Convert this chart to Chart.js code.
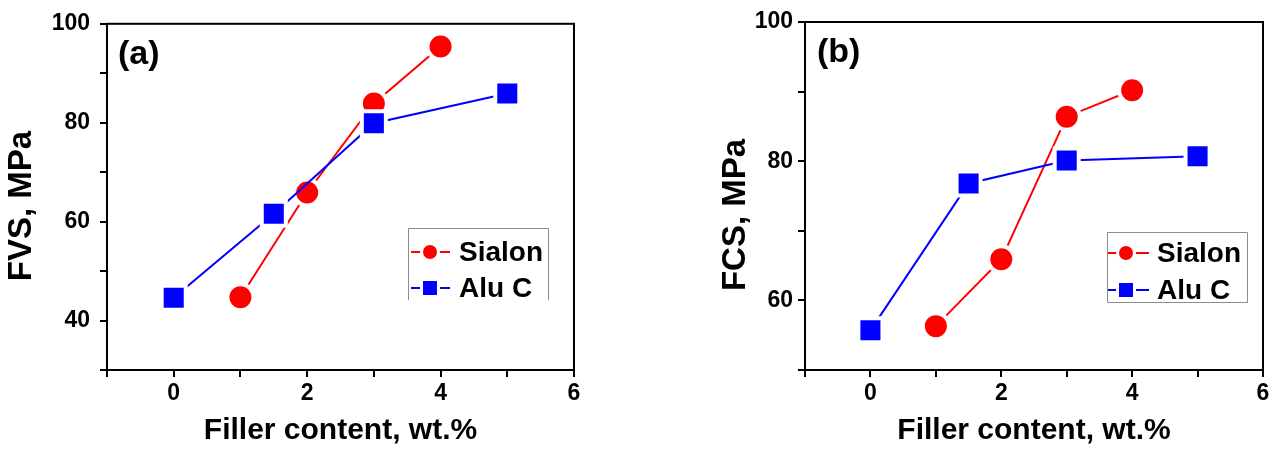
<!DOCTYPE html>
<html>
<head>
<meta charset="utf-8">
<script src="https://cdn.jsdelivr.net/npm/chart.js@4"></script>
<style>
  html, body { margin: 0; padding: 0; background: #fff; }
  #wrap { position: relative; width: 1284px; height: 449px; }
  #chartA { position: absolute; left: 0; top: 0; }
  #chartB { position: absolute; left: 640px; top: 0; }
</style>
</head>
<body>
<div id="wrap">
  <canvas id="chartA" width="640" height="449"></canvas>
  <canvas id="chartB" width="644" height="449"></canvas>
</div>
<script>
// filler content, wt.%
const fillerSialon = [1, 2, 3, 4];
const fillerAlu = [0, 1.5, 3, 5];
// (a) FVS, MPa
const fvsSialon = [44.7, 65.9, 83.9, 95.4];
const fvsAlu = [44.6, 61.6, 79.9, 85.9];
// (b) FCS, MPa
const fcsSialon = [56.3, 65.9, 86.4, 90.2];
const fcsAlu = [55.7, 76.8, 80.1, 80.7];

const seriesNames = ['Sialon', 'Alu C'];
const xTickLabels = [0, 2, 4, 6];
const fvsTickLabels = [40, 60, 80, 100];
const fcsTickLabels = [60, 80, 100];

const FONT = '"Liberation Sans", Arial, Helvetica, sans-serif';
const RED = '#ff0000';
const BLUE = '#0000ff';

function toPoints(xs, ys) {
  return xs.map((x, i) => ({ x: x, y: ys[i] }));
}

// frame, y title, panel letter and the Origin-style legend box
const decorPlugin = {
  id: 'decor',
  afterDraw(chart, args, opts) {
    const ctx = chart.ctx;
    const area = chart.chartArea;
    ctx.save();

    ctx.strokeStyle = '#000';
    ctx.lineWidth = 2;
    ctx.strokeRect(area.left, area.top, area.right - area.left, area.bottom - area.top);

    // rotated y axis title, placed like the original figure
    ctx.save();
    ctx.translate(opts.yTitleX, opts.yTitleY);
    ctx.rotate(-Math.PI / 2);
    ctx.fillStyle = '#000';
    ctx.font = 'bold 33px ' + FONT;
    ctx.textAlign = 'center';
    ctx.textBaseline = 'middle';
    ctx.fillText(opts.yTitle, 0, 0);
    ctx.restore();

    ctx.fillStyle = '#000';
    ctx.font = 'bold 34px ' + FONT;
    ctx.textAlign = 'left';
    ctx.textBaseline = 'middle';
    ctx.fillText(opts.label, opts.labelX, opts.labelY);

    const lg = opts.legend;
    ctx.strokeStyle = '#8c8c8c';
    ctx.lineWidth = 1;
    ctx.beginPath();
    if (lg.openBottom) {
      ctx.moveTo(lg.x + 0.5, lg.y + lg.h);
      ctx.lineTo(lg.x + 0.5, lg.y + 0.5);
      ctx.lineTo(lg.x + lg.w + 0.5, lg.y + 0.5);
      ctx.lineTo(lg.x + lg.w + 0.5, lg.y + lg.h);
    } else {
      ctx.rect(lg.x + 0.5, lg.y + 0.5, lg.w, lg.h);
    }
    ctx.stroke();

    chart.data.datasets.forEach((ds, i) => {
      const y = lg.rows[i];
      ctx.strokeStyle = ds.borderColor;
      ctx.lineWidth = 2;
      ctx.beginPath();
      ctx.moveTo(lg.lineX0, y);
      ctx.lineTo(lg.lineX1, y);
      ctx.stroke();

      ctx.fillStyle = ds.backgroundColor;
      ctx.strokeStyle = '#fff';
      ctx.lineWidth = 3;
      ctx.beginPath();
      if (ds.pointStyle === 'circle') {
        ctx.arc(lg.markX, y, 8.5, 0, Math.PI * 2);
      } else {
        ctx.rect(lg.markX - 8.5, y - 8.5, 17, 17);
      }
      ctx.fill();
      ctx.stroke();

      ctx.fillStyle = '#000';
      ctx.font = 'bold 28px ' + FONT;
      ctx.textAlign = 'left';
      ctx.textBaseline = 'middle';
      ctx.fillText(ds.label, lg.textX, y + 1);
    });

    ctx.restore();
  }
};

function makePanel(canvasId, cfg) {
  const datasets = [
    {
      label: seriesNames[0],
      data: toPoints(fillerSialon, cfg.sialon),
      borderColor: RED,
      backgroundColor: RED,
      pointStyle: 'circle',
      pointRadius: 13,
      pointBorderColor: '#fff',
      pointBorderWidth: 4,
      order: 1
    },
    {
      label: seriesNames[1],
      data: toPoints(fillerAlu, cfg.alu),
      borderColor: BLUE,
      backgroundColor: BLUE,
      pointStyle: 'rect',
      pointRadius: 17,
      pointBorderColor: '#fff',
      pointBorderWidth: 4,
      order: 0
    }
  ];
  datasets.forEach(ds => {
    ds.showLine = true;
    ds.borderWidth = 2;
    ds.pointBackgroundColor = ds.backgroundColor;
  });

  const tickFont = { family: FONT, size: 23, weight: 'bold' };
  const axisGrid = {
    display: true,
    drawOnChartArea: false,
    drawTicks: true,
    tickLength: 7,
    color: '#000',
    lineWidth: 2
  };
  const axisBorder = { display: true, color: '#000', width: 2 };

  return new Chart(document.getElementById(canvasId), {
    type: 'scatter',
    data: { datasets: datasets },
    options: {
      responsive: false,
      animation: false,
      events: [],
      layout: { padding: { top: 22, right: cfg.padRight, left: 0, bottom: 0 } },
      plugins: {
        legend: { display: false },
        tooltip: { enabled: false },
        decor: cfg.decor
      },
      scales: {
        x: {
          type: 'linear',
          min: -1,
          max: 6,
          grid: axisGrid,
          border: axisBorder,
          afterFit: scale => { scale.height = 79; },
          ticks: {
            stepSize: 1,
            autoSkip: false,
            maxRotation: 0,
            padding: 3,
            color: '#000',
            font: tickFont,
            callback: v => xTickLabels.includes(v) ? v : ''
          },
          title: {
            display: true,
            text: 'Filler content, wt.%',
            color: '#000',
            font: { family: FONT, size: 30, weight: 'bold' },
            padding: { top: 0, bottom: 0 }
          }
        },
        y: {
          min: cfg.yMin,
          max: 100,
          grid: axisGrid,
          border: axisBorder,
          afterFit: scale => { scale.width = cfg.yAxisWidth; },
          ticks: {
            stepSize: 10,
            autoSkip: false,
            padding: cfg.yTickPad,
            color: '#000',
            font: tickFont,
            callback: v => cfg.yLabels.includes(v) ? v : ''
          },
          title: { display: false }
        }
      }
    },
    plugins: [decorPlugin]
  });
}

makePanel('chartA', {
  sialon: fvsSialon,
  alu: fvsAlu,
  yMin: 30,
  yLabels: fvsTickLabels,
  yAxisWidth: 107,
  yTickPad: 10,
  padRight: 66,
  decor: {
    yTitle: 'FVS, MPa', yTitleX: 22, yTitleY: 206,
    label: '(a)', labelX: 118, labelY: 55,
    legend: {
      x: 408, y: 228, w: 140, h: 72, openBottom: true,
      rows: [252, 288], lineX0: 411, lineX1: 450, markX: 430, textX: 459
    }
  }
});

makePanel('chartB', {
  sialon: fcsSialon,
  alu: fcsAlu,
  yMin: 50,
  yLabels: fcsTickLabels,
  yAxisWidth: 165,
  yTickPad: 5,
  padRight: 14,
  decor: {
    yTitle: 'FCS, MPa', yTitleX: 96, yTitleY: 215,
    label: '(b)', labelX: 177, labelY: 53,
    legend: {
      x: 467, y: 232, w: 140, h: 70, openBottom: false,
      rows: [253, 290], lineX0: 468, lineX1: 509, markX: 486, textX: 517
    }
  }
});
</script>
</body>
</html>
